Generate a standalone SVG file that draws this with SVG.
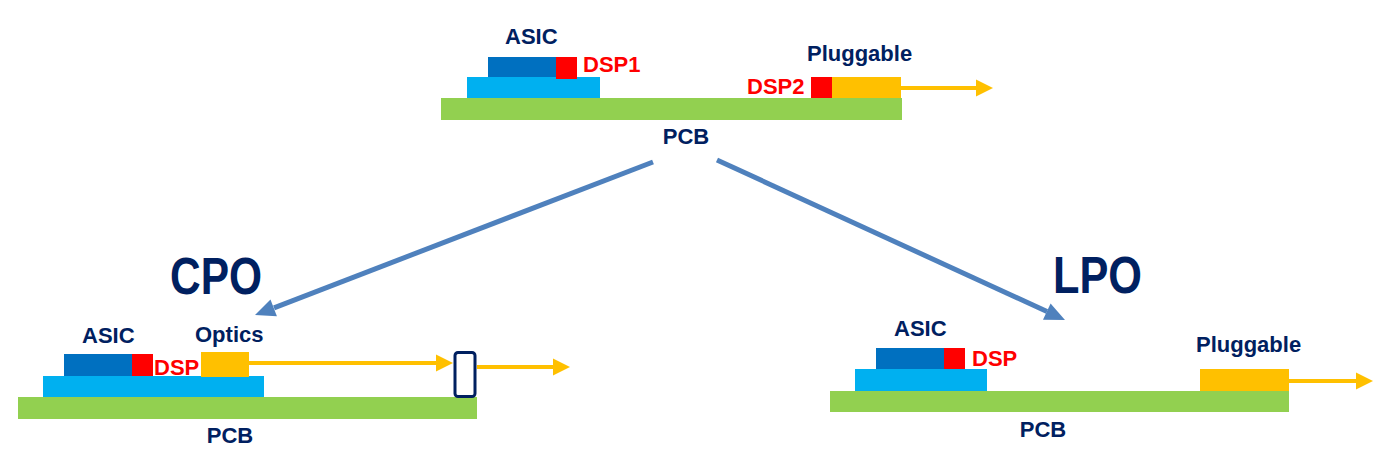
<svg xmlns="http://www.w3.org/2000/svg" width="1388" height="454" viewBox="0 0 1388 454">
<defs>
<style>
.t{font-family:"Liberation Sans",Arial,sans-serif;font-weight:bold;font-size:22px;fill:#002060}
.r{fill:#ff0000}
.big{font-size:51px}
.pcb{fill:#92d050}
.sub{fill:#00b0f0}
.asic{fill:#0070c0}
.dsp{fill:#ff0000}
.opt{fill:#ffc000}
.oline{stroke:#ffc000;stroke-width:4;fill:none}
.bline{stroke:#4f81bd;stroke-width:5;fill:none}
.bhead{fill:#4f81bd}
</style>
</defs>
<rect width="1388" height="454" fill="#ffffff"/>

<g id="top">
<rect class="pcb" x="441" y="98" width="461" height="22"/>
<rect class="sub" x="467" y="77" width="133" height="21"/>
<rect class="asic" x="488" y="57" width="68" height="20"/>
<rect class="dsp" x="556" y="57" width="21" height="22"/>
<rect class="dsp" x="811" y="77" width="21" height="21"/>
<rect class="opt" x="832" y="77" width="69" height="21"/>
<line class="oline" x1="901" y1="88" x2="978" y2="88"/>
<polygon class="opt" points="976,79.5 993,88 976,96.5"/>
<text class="t" x="505" y="44">ASIC</text>
<text class="t r" x="583" y="72">DSP1</text>
<text class="t r" x="747" y="94">DSP2</text>
<text class="t" x="807" y="61">Pluggable</text>
<text class="t" x="686" y="144" text-anchor="middle">PCB</text>
</g>

<g id="cpo">
<rect class="pcb" x="18" y="397" width="459" height="22"/>
<rect class="sub" x="43" y="376" width="221" height="21"/>
<rect class="asic" x="64" y="354" width="68" height="22"/>
<rect class="dsp" x="132" y="354" width="21" height="22"/>
<rect class="opt" x="201" y="352" width="48" height="25"/>
<line class="oline" x1="249" y1="363" x2="438" y2="363"/>
<polygon class="opt" points="436,354.5 453,363 436,371.5"/>
<rect x="455" y="352.5" width="20" height="44" rx="3" fill="#ffffff" stroke="#002060" stroke-width="3"/>
<line class="oline" x1="477" y1="367" x2="555" y2="367"/>
<polygon class="opt" points="553,358.5 570,367 553,375.5"/>
<text class="t" x="82" y="343">ASIC</text>
<text class="t" x="195" y="342">Optics</text>
<text class="t r" x="154" y="375">DSP</text>
<text class="t" x="230" y="443" text-anchor="middle">PCB</text>
<text class="t big" x="170" y="294" textLength="92" lengthAdjust="spacingAndGlyphs">CPO</text>
</g>

<g id="lpo">
<rect class="pcb" x="830" y="391" width="459" height="21"/>
<rect class="sub" x="855" y="369" width="132" height="22"/>
<rect class="asic" x="876" y="348" width="68" height="21"/>
<rect class="dsp" x="944" y="348" width="21" height="21"/>
<rect class="opt" x="1200" y="369" width="89" height="22"/>
<line class="oline" x1="1289" y1="381" x2="1358" y2="381"/>
<polygon class="opt" points="1356,372.5 1373,381 1356,389.5"/>
<text class="t" x="894" y="336">ASIC</text>
<text class="t r" x="972" y="366">DSP</text>
<text class="t" x="1196" y="352">Pluggable</text>
<text class="t" x="1043" y="437" text-anchor="middle">PCB</text>
<text class="t big" x="1053" y="293" textLength="89" lengthAdjust="spacingAndGlyphs">LPO</text>
</g>

<g id="connectors">
<line class="bline" x1="653" y1="162" x2="274" y2="307.8"/>
<polygon class="bhead" points="276.9,316.2 255,315 270.5,299.4"/>
<line class="bline" x1="717" y1="160" x2="1047" y2="311.6"/>
<polygon class="bhead" points="1043,319.8 1065,320 1050.6,303.4"/>
</g>
</svg>
